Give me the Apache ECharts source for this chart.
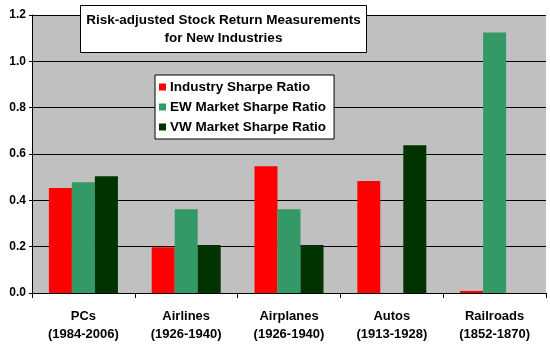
<!DOCTYPE html>
<html>
<head>
<meta charset="utf-8">
<script src="https://cdn.jsdelivr.net/npm/echarts@6/dist/echarts.min.js"></script>
<style>
  html, body { margin: 0; padding: 0; background: #ffffff; }
  #chart { width: 550px; height: 350px; }
</style>
</head>
<body>
<div id="chart"></div>
<script>
// Industry names and the periods they cover
const industries = ['PCs', 'Airlines', 'Airplanes', 'Autos', 'Railroads'];
const periods = ['(1984-2006)', '(1926-1940)', '(1926-1940)', '(1913-1928)', '(1852-1870)'];

// Sharpe ratios per industry
const industrySharpe = [0.453, 0.197, 0.547, 0.483, 0.009];
const ewMarketSharpe = [0.478, 0.362, 0.362, 0, 1.125];
const vwMarketSharpe = [0.504, 0.207, 0.207, 0.638, 0];

const yTicks = { min: 0, max: 1.2, interval: 0.2 };

const titleLines = ['Risk-adjusted Stock Return Measurements', 'for New Industries'];

const categories = industries.map((name, i) => name + '\n' + periods[i]);

const font = '"Liberation Sans", Arial, sans-serif';

const chart = echarts.init(document.getElementById('chart'), null, { renderer: 'canvas' });

const barStyle = (name, color, data) => ({
  name: name,
  type: 'bar',
  data: data,
  barWidth: 23,
  barGap: '0%',
  itemStyle: { color: color },
  emphasis: { disabled: true }
});

chart.setOption({
  animation: false,
  backgroundColor: '#ffffff',
  grid: {
    left: 32, right: 4, top: 15, bottom: 57,
    show: true, backgroundColor: '#c0c0c0', borderWidth: 0
  },
  legend: {
    orient: 'vertical',
    left: 155, top: 75,
    backgroundColor: '#ffffff',
    borderColor: '#000000',
    borderWidth: 1,
    padding: [5, 8, 5, 4],
    itemWidth: 7, itemHeight: 7, itemGap: 6,
    icon: 'rect',
    selectedMode: false,
    textStyle: { fontFamily: font, fontWeight: 'bold', fontSize: 13.5, color: '#000', lineHeight: 14, padding: [0, 0, 0, -1] }
  },
  xAxis: {
    type: 'category',
    data: categories,
    axisLine: { lineStyle: { color: '#000', width: 1 } },
    axisTick: { show: true, length: 5, lineStyle: { color: '#000' } },
    axisLabel: {
      margin: 14,
      fontFamily: font, fontWeight: 'bold', fontSize: 13, color: '#000',
      lineHeight: 18, interval: 0
    },
    splitLine: { show: false }
  },
  yAxis: {
    type: 'value',
    min: yTicks.min, max: yTicks.max, interval: yTicks.interval,
    axisLine: { show: true, lineStyle: { color: '#000', width: 1 } },
    axisTick: { show: true, length: 3, lineStyle: { color: '#000' } },
    axisLabel: {
      margin: 6,
      fontFamily: font, fontWeight: 'bold', fontSize: 12, color: '#000',
      formatter: v => v.toFixed(1)
    },
    splitLine: { show: true, lineStyle: { color: '#000', width: 1 } }
  },
  graphic: [
    {
      type: 'rect',
      shape: { x: 80.5, y: 5.5, width: 286, height: 47 },
      style: { fill: '#ffffff', stroke: '#000000', lineWidth: 1 },
      z: 100
    },
    {
      type: 'text',
      x: 223.5, y: 29,
      style: {
        text: titleLines.join('\n'),
        font: 'bold 13.5px ' + font,
        fill: '#000',
        align: 'center',
        verticalAlign: 'middle',
        lineHeight: 18
      },
      z: 101
    }
  ],
  series: [
    barStyle('Industry Sharpe Ratio', '#ff0000', industrySharpe),
    barStyle('EW Market Sharpe Ratio', '#339966', ewMarketSharpe),
    barStyle('VW Market Sharpe Ratio', '#003300', vwMarketSharpe)
  ]
});
</script>
</body>
</html>
